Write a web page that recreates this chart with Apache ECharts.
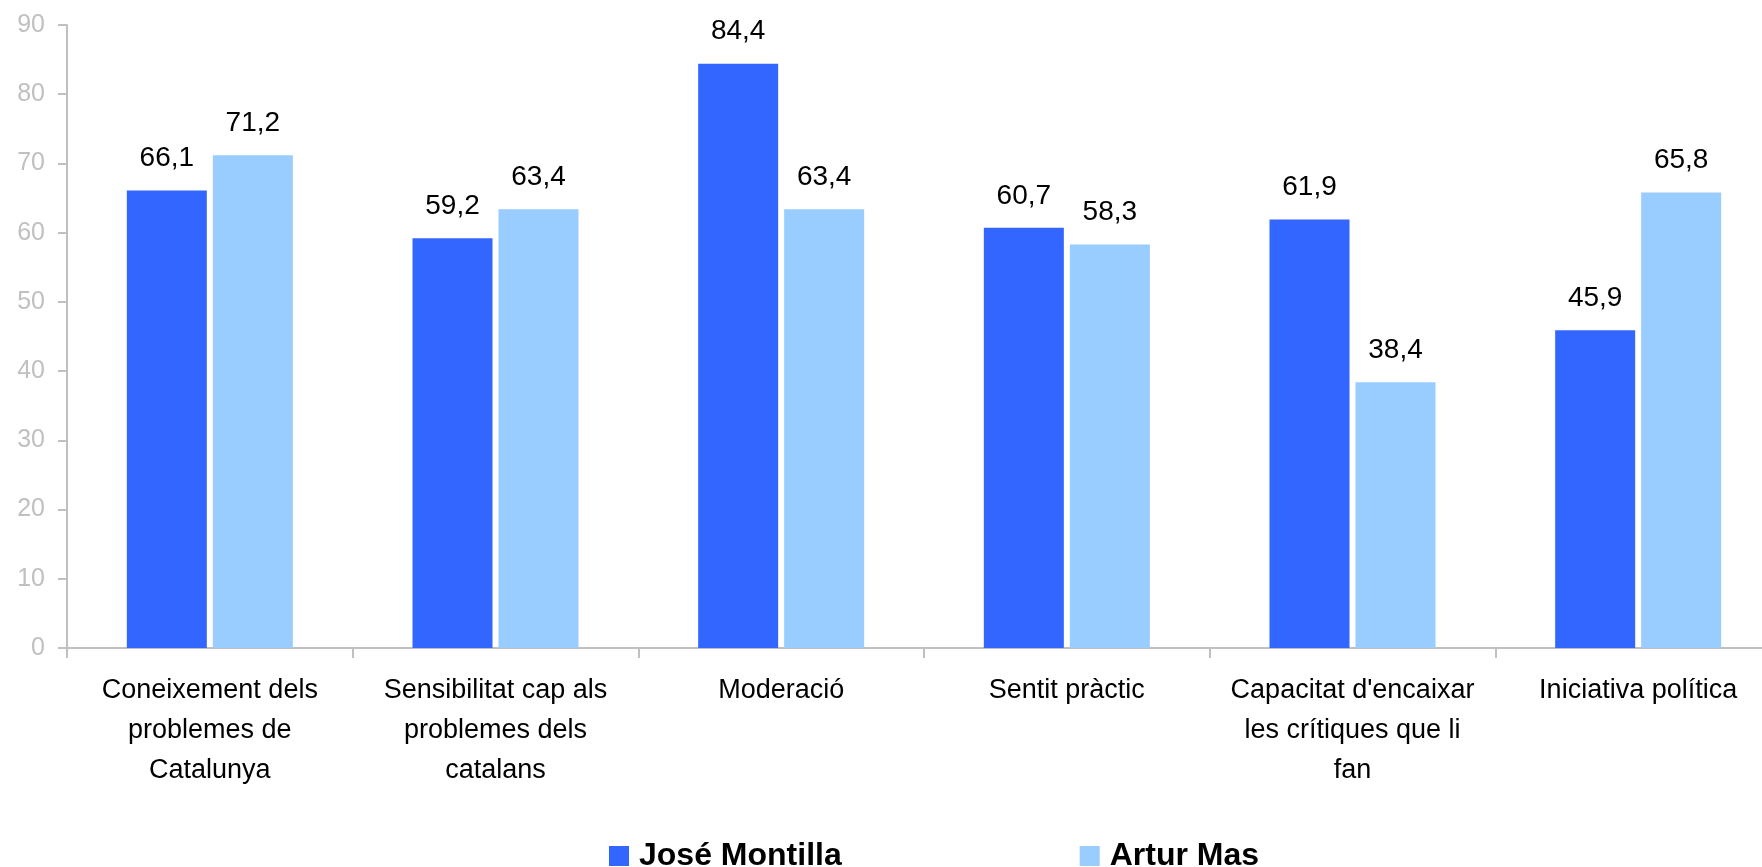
<!DOCTYPE html>
<html>
<head>
<meta charset="utf-8">
<script src="https://cdn.jsdelivr.net/npm/echarts@6/dist/echarts.min.js"></script>
<style>
html,body{margin:0;padding:0;background:#fff;}
#chart{width:1762px;height:867px;}
</style>
</head>
<body>
<div id="chart"></div>
<script>
var categories = [
  "Coneixement dels\nproblemes de\nCatalunya",
  "Sensibilitat cap als\nproblemes dels\ncatalans",
  "Moderació",
  "Sentit pràctic",
  "Capacitat d'encaixar\nles crítiques que li\nfan",
  "Iniciativa política"
];
var montilla = [66.1, 59.2, 84.4, 60.7, 61.9, 45.9];
var mas = [71.2, 63.4, 63.4, 58.3, 38.4, 65.8];
var seriesNames = ["José Montilla", "Artur Mas"];
var yTicks = {min: 0, max: 90, interval: 10};

var FONT = "'Liberation Sans', Arial, sans-serif";
function fmt(p){ return p.value.toFixed(1).replace('.', ','); }

var chart = echarts.init(document.getElementById('chart'));
chart.setOption({
  animation: false,
  backgroundColor: '#ffffff',
  grid: {left: 67, width: 1714, top: 25, height: 623, containLabel: false, outerBoundsMode: 'none'},
  legend: {
    data: seriesNames,
    left: 604,
    top: 835,
    itemWidth: 20,
    itemHeight: 20,
    itemGap: 238,
    icon: 'rect',
    textStyle: {fontFamily: FONT, fontSize: 32, fontWeight: 'bold', color: '#000', padding: [0,0,0,5]},
    selectedMode: false
  },
  xAxis: {
    type: 'category',
    data: categories,
    boundaryGap: true,
    axisLine: {lineStyle: {color: '#C0C0C0', width: 2}},
    axisTick: {show: true, length: 10, lineStyle: {color: '#C0C0C0', width: 2}},
    axisLabel: {
      interval: 0,
      margin: 23,
      fontFamily: FONT,
      fontSize: 27,
      lineHeight: 40,
      color: '#000'
    },
    splitLine: {show: false}
  },
  yAxis: {
    type: 'value',
    min: yTicks.min,
    max: yTicks.max,
    interval: yTicks.interval,
    axisLine: {show: true, lineStyle: {color: '#C0C0C0', width: 2}},
    axisTick: {show: true, length: 9, lineStyle: {color: '#C0C0C0', width: 2}},
    axisLabel: {margin: 22, fontFamily: FONT, fontSize: 25, color: '#C0C0C0'},
    splitLine: {show: false}
  },
  series: [
    {
      name: seriesNames[0],
      type: 'bar',
      data: montilla,
      barWidth: 80,
      barGap: '7.5%',
      itemStyle: {color: '#3366FF'},
      label: {show: true, position: 'top', distance: 18, formatter: fmt,
        fontFamily: FONT, fontSize: 28, color: '#000'}
    },
    {
      name: seriesNames[1],
      type: 'bar',
      data: mas,
      barWidth: 80,
      barGap: '7.5%',
      itemStyle: {color: '#99CCFF'},
      label: {show: true, position: 'top', distance: 18, formatter: fmt,
        fontFamily: FONT, fontSize: 28, color: '#000'}
    }
  ]
});
</script>
</body>
</html>
